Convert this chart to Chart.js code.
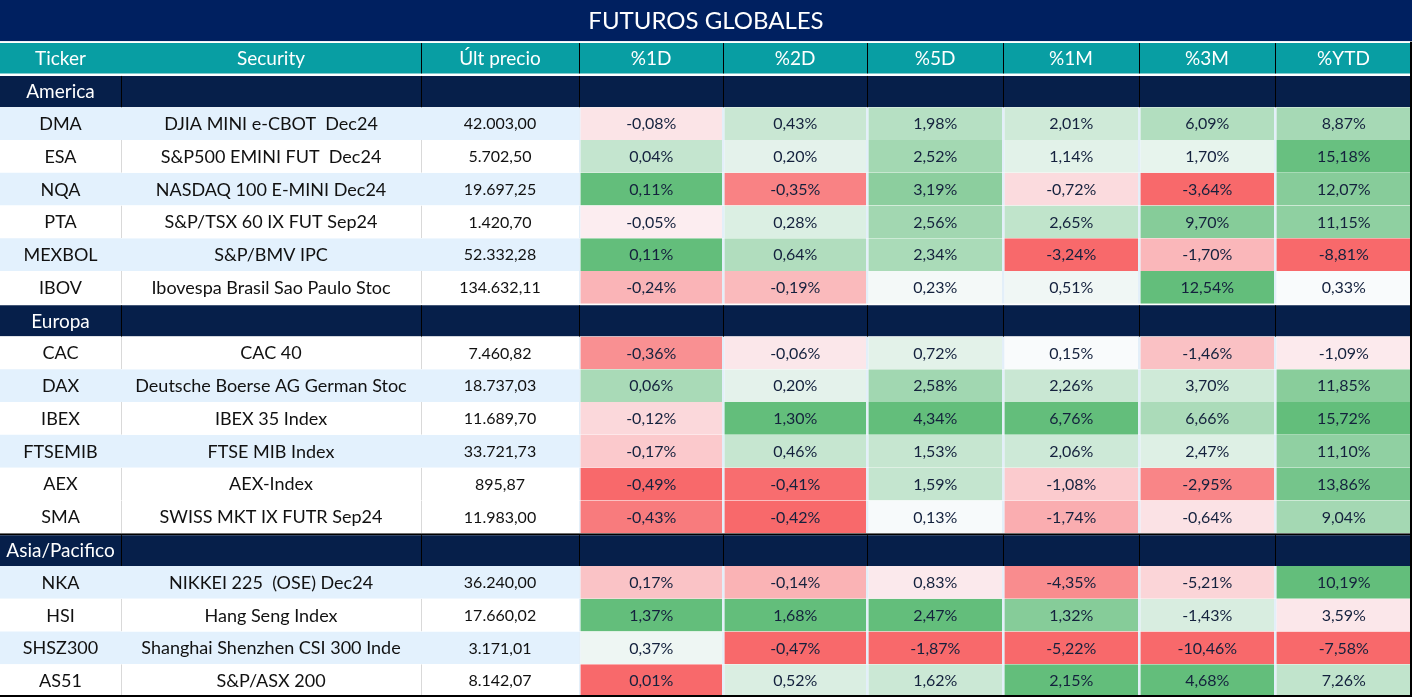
<!DOCTYPE html>
<html><head><meta charset="utf-8">
<script src="https://cdn.jsdelivr.net/npm/chart.js@4.4.1/dist/chart.umd.min.js"></script>
<style>html,body{margin:0;padding:0;background:#fff;overflow:hidden}</style>
</head><body>
<canvas id="c" width="1412" height="697"></canvas>
<script>
// ---------------- DATA ----------------
const tableTitle = 'FUTUROS GLOBALES';
const columnHeaders = ['Ticker', 'Security', 'Últ precio', '%1D', '%2D', '%5D', '%1M', '%3M', '%YTD'];
const sectionNames = ['America', 'Europa', 'Asia/Pacifico'];
const sectionSizes = [6, 6, 4];
const tickers = ['DMA', 'ESA', 'NQA', 'PTA', 'MEXBOL', 'IBOV',
  'CAC', 'DAX', 'IBEX', 'FTSEMIB', 'AEX', 'SMA',
  'NKA', 'HSI', 'SHSZ300', 'AS51'];
const securities = ['DJIA MINI e-CBOT  Dec24', 'S&P500 EMINI FUT  Dec24', 'NASDAQ 100 E-MINI Dec24',
  'S&P/TSX 60 IX FUT Sep24', 'S&P/BMV IPC', 'Ibovespa Brasil Sao Paulo Stoc',
  'CAC 40', 'Deutsche Boerse AG German Stoc', 'IBEX 35 Index', 'FTSE MIB Index', 'AEX-Index',
  'SWISS MKT IX FUTR Sep24',
  'NIKKEI 225  (OSE) Dec24', 'Hang Seng Index', 'Shanghai Shenzhen CSI 300 Inde', 'S&P/ASX 200'];
const lastPrice = [42003.00, 5702.50, 19697.25, 1420.70, 52332.28, 134632.11,
  7460.82, 18737.03, 11689.70, 33721.73, 895.87, 11983.00,
  36240.00, 17660.02, 3171.01, 8142.07];
const pct1D = [-0.08, 0.04, 0.11, -0.05, 0.11, -0.24, -0.36, 0.06, -0.12, -0.17, -0.49, -0.43, 0.17, 1.37, 0.37, 0.01];
const pct2D = [0.43, 0.20, -0.35, 0.28, 0.64, -0.19, -0.06, 0.20, 1.30, 0.46, -0.41, -0.42, -0.14, 1.68, -0.47, 0.52];
const pct5D = [1.98, 2.52, 3.19, 2.56, 2.34, 0.23, 0.72, 2.58, 4.34, 1.53, 1.59, 0.13, 0.83, 2.47, -1.87, 1.62];
const pct1M = [2.01, 1.14, -0.72, 2.65, -3.24, 0.51, 0.15, 2.26, 6.76, 2.06, -1.08, -1.74, -4.35, 1.32, -5.22, 2.15];
const pct3M = [6.09, 1.70, -3.64, 9.70, -1.70, 12.54, -1.46, 3.70, 6.66, 2.47, -2.95, -0.64, -5.21, -1.43, -10.46, 4.68];
const pctYTD = [8.87, 15.18, 12.07, 11.15, -8.81, 0.33, -1.09, 11.85, 15.72, 11.10, 13.86, 9.04, 10.19, 3.59, -7.58, 7.26];
const pctColumns = [pct1D, pct2D, pct5D, pct1M, pct3M, pctYTD];

// ---------------- STYLE / LAYOUT ----------------
const COL_EDGES = [0, 121, 421, 579, 723, 867, 1003, 1139, 1275, 1412];
const FONT = 'Lato, "Noto Sans", sans-serif';
const C = {
  titleBg: '#002060', header: '#089EA3', section: '#061F4A',
  stripe: '#E3F1FD', white: '#FFFFFF', gap: '#E3EFF9', sep: '#D9D9D9',
  text: '#111111', pctText: '#14213D',
  red: [248, 105, 107], mid: [252, 252, 255], green: [99, 190, 123]
};
// striped background of the Ticker/Security/Price cells
const stripeRows = [1, 0, 1, 0, 1, 0, 0, 1, 0, 1, 0, 0, 1, 0, 1, 0];
// conditional-format groups (3-colour scale): midpoint 0 or median
const heatGroups = [
  { from: 0, to: 12, mid: 'zero' },
  { from: 12, to: 16, mid: 'median' }
];

// ---------------- helpers ----------------
function fmtNum(v, dec) {
  const s = Math.abs(v).toFixed(dec);
  let [i, f] = s.split('.');
  i = i.replace(/\B(?=(\d{3})+(?!\d))/g, '.');
  return (v < 0 ? '-' : '') + i + ',' + f;
}
function mix(a, b, t) {
  t = Math.max(0, Math.min(1, t));
  return 'rgb(' + a.map((x, k) => Math.round(x + (b[k] - x) * t)).join(',') + ')';
}
function heatColor(values, r) {
  const g = heatGroups.find(g => r >= g.from && r < g.to);
  const vals = values.slice(g.from, g.to);
  const sorted = [...vals].sort((a, b) => a - b);
  const n = sorted.length;
  const median = n % 2 ? sorted[(n - 1) / 2] : (sorted[n / 2 - 1] + sorted[n / 2]) / 2;
  const mid = g.mid === 'zero' ? 0 : median;
  const mn = sorted[0], mx = sorted[n - 1];
  const v = values[r];
  if (v >= mid) return mix(C.mid, C.green, mx > mid ? (v - mid) / (mx - mid) : 0);
  return mix(C.mid, C.red, mid > mn ? (mid - v) / (mid - mn) : 0);
}

// ---------------- rows ----------------
const rows = [{ type: 'header', key: '__hdr' }];
{
  let k = 0;
  sectionNames.forEach((s, si) => {
    rows.push({ type: 'section', key: s, s: si });
    for (let j = 0; j < sectionSizes[si]; j++) { rows.push({ type: 'data', key: tickers[k], i: k }); k++; }
  });
}

function cellBg(row, c) {
  if (row.type === 'header') return C.header;
  if (row.type === 'section') return C.section;
  if (c < 3) return stripeRows[row.i] ? C.stripe : C.white;
  return heatColor(pctColumns[c - 3], row.i);
}
function cellBorderColor(row, c) {
  if (row.type === 'header') return C.white;
  if (row.type === 'section') return row.s === 2 ? '#000000' : C.white;
  if (c < 3) return stripeRows[row.i] ? C.stripe : C.sep;
  return C.gap;
}
function cellBorderWidth(row, c) {
  if (row.type === 'header') return { top: 1.4, bottom: 1, left: 0, right: 0 };
  if (row.type === 'section') return { top: row.s === 2 ? 2 : 1.5, bottom: 0, left: 0, right: 0 };
  if (c === 0) return 0;
  if (c < 3) return { top: 0, bottom: 0, left: 1, right: 0 };
  return { top: 0, bottom: 0, left: 1.6, right: 1 };
}

const datasets = columnHeaders.map((h, c) => ({
  label: h,
  data: rows.map(() => [COL_EDGES[c], COL_EDGES[c + 1]]),
  backgroundColor: ctx => cellBg(rows[ctx.dataIndex], c),
  borderColor: ctx => cellBorderColor(rows[ctx.dataIndex], c),
  borderWidth: ctx => cellBorderWidth(rows[ctx.dataIndex], c),
  borderSkipped: false,
  inflateAmount: 0,
  barPercentage: 1,
  categoryPercentage: 1,
  grouped: false
}));

function textAt(ctx, str, x, yc, size, color, align) {
  ctx.font = size + 'px ' + FONT;
  ctx.fillStyle = color;
  ctx.textAlign = align || 'center';
  ctx.textBaseline = 'alphabetic';
  ctx.fillText(str, x, yc + size * 0.36);
}

const tablePlugin = {
  id: 'tablePlugin',
  beforeDraw(chart) {
    const ctx = chart.ctx;
    ctx.save();
    ctx.fillStyle = '#FFFFFF';
    ctx.fillRect(0, 0, chart.width, chart.height);
    ctx.fillStyle = C.titleBg;
    ctx.fillRect(0, 0, chart.width, chart.chartArea.top - 0.6);
    ctx.restore();
  },
  afterDatasetsDraw(chart) {
    const ctx = chart.ctx;
    const metas = columnHeaders.map((_, c) => chart.getDatasetMeta(c));
    ctx.save();
    rows.forEach((row, r) => {
      const els = metas.map(m => m.data[r]);
      const y = els[0].y, h = els[0].height;
      const top = y - h / 2, bot = y + h / 2;
      const cx = c => (els[c].x + els[c].base) / 2;
      if (row.type === 'header' || row.type === 'section') {
        const t0 = row.type === 'header' ? top + 1.4 : top + (row.s === 2 ? 2 : 1.5);
        const b0 = row.type === 'header' ? bot - 1 : bot;
        ctx.fillStyle = '#000000';
        for (let c = 1; c < columnHeaders.length; c++) {
          if (row.type === 'header' && c === 1) continue;
          const xe = Math.min(els[c].base, els[c].x);
          ctx.fillRect(Math.round(xe), t0, 1, b0 - t0);
        }
      }
      if (row.type === 'header') {
        columnHeaders.forEach((lab, c) => textAt(ctx, lab, cx(c), y, 19, '#FFFFFF'));
      } else if (row.type === 'section') {
        textAt(ctx, sectionNames[row.s], cx(0), y + 0.5, 19, '#FFFFFF');
      } else {
        const i = row.i;
        textAt(ctx, tickers[i], cx(0), y, 18, C.text);
        textAt(ctx, securities[i], cx(1), y, 18, C.text);
        textAt(ctx, fmtNum(lastPrice[i], 2), cx(2), y, 16, C.text);
        pctColumns.forEach((col, k) => textAt(ctx, fmtNum(col[i], 2) + '%', cx(k + 3) + 0.3, y, 16, C.pctText));
      }
    });
    // outer frame: right and bottom edges
    const a = chart.chartArea;
    ctx.fillStyle = '#000000';
    ctx.fillRect(chart.width - 2, a.top, 2, a.bottom - a.top);
    ctx.fillRect(0, a.bottom - 2, chart.width, 2);
    ctx.restore();
  }
};

new Chart(document.getElementById('c'), {
  type: 'bar',
  data: { labels: rows.map(r => r.key), datasets },
  options: {
    indexAxis: 'y',
    responsive: false,
    devicePixelRatio: 1,
    animation: false,
    events: [],
    layout: { padding: 0 },
    plugins: {
      legend: { display: false },
      tooltip: { enabled: false },
      title: {
        display: true, text: tableTitle, color: '#FFFFFF',
        font: { family: FONT, size: 24, weight: 'normal', lineHeight: 1.2 },
        padding: { top: 7, bottom: 5.87 }
      }
    },
    scales: {
      x: { type: 'linear', min: 0, max: 1412, display: false },
      y: { type: 'category', display: false, offset: true }
    }
  },
  plugins: [tablePlugin]
});
</script>
</body></html>
